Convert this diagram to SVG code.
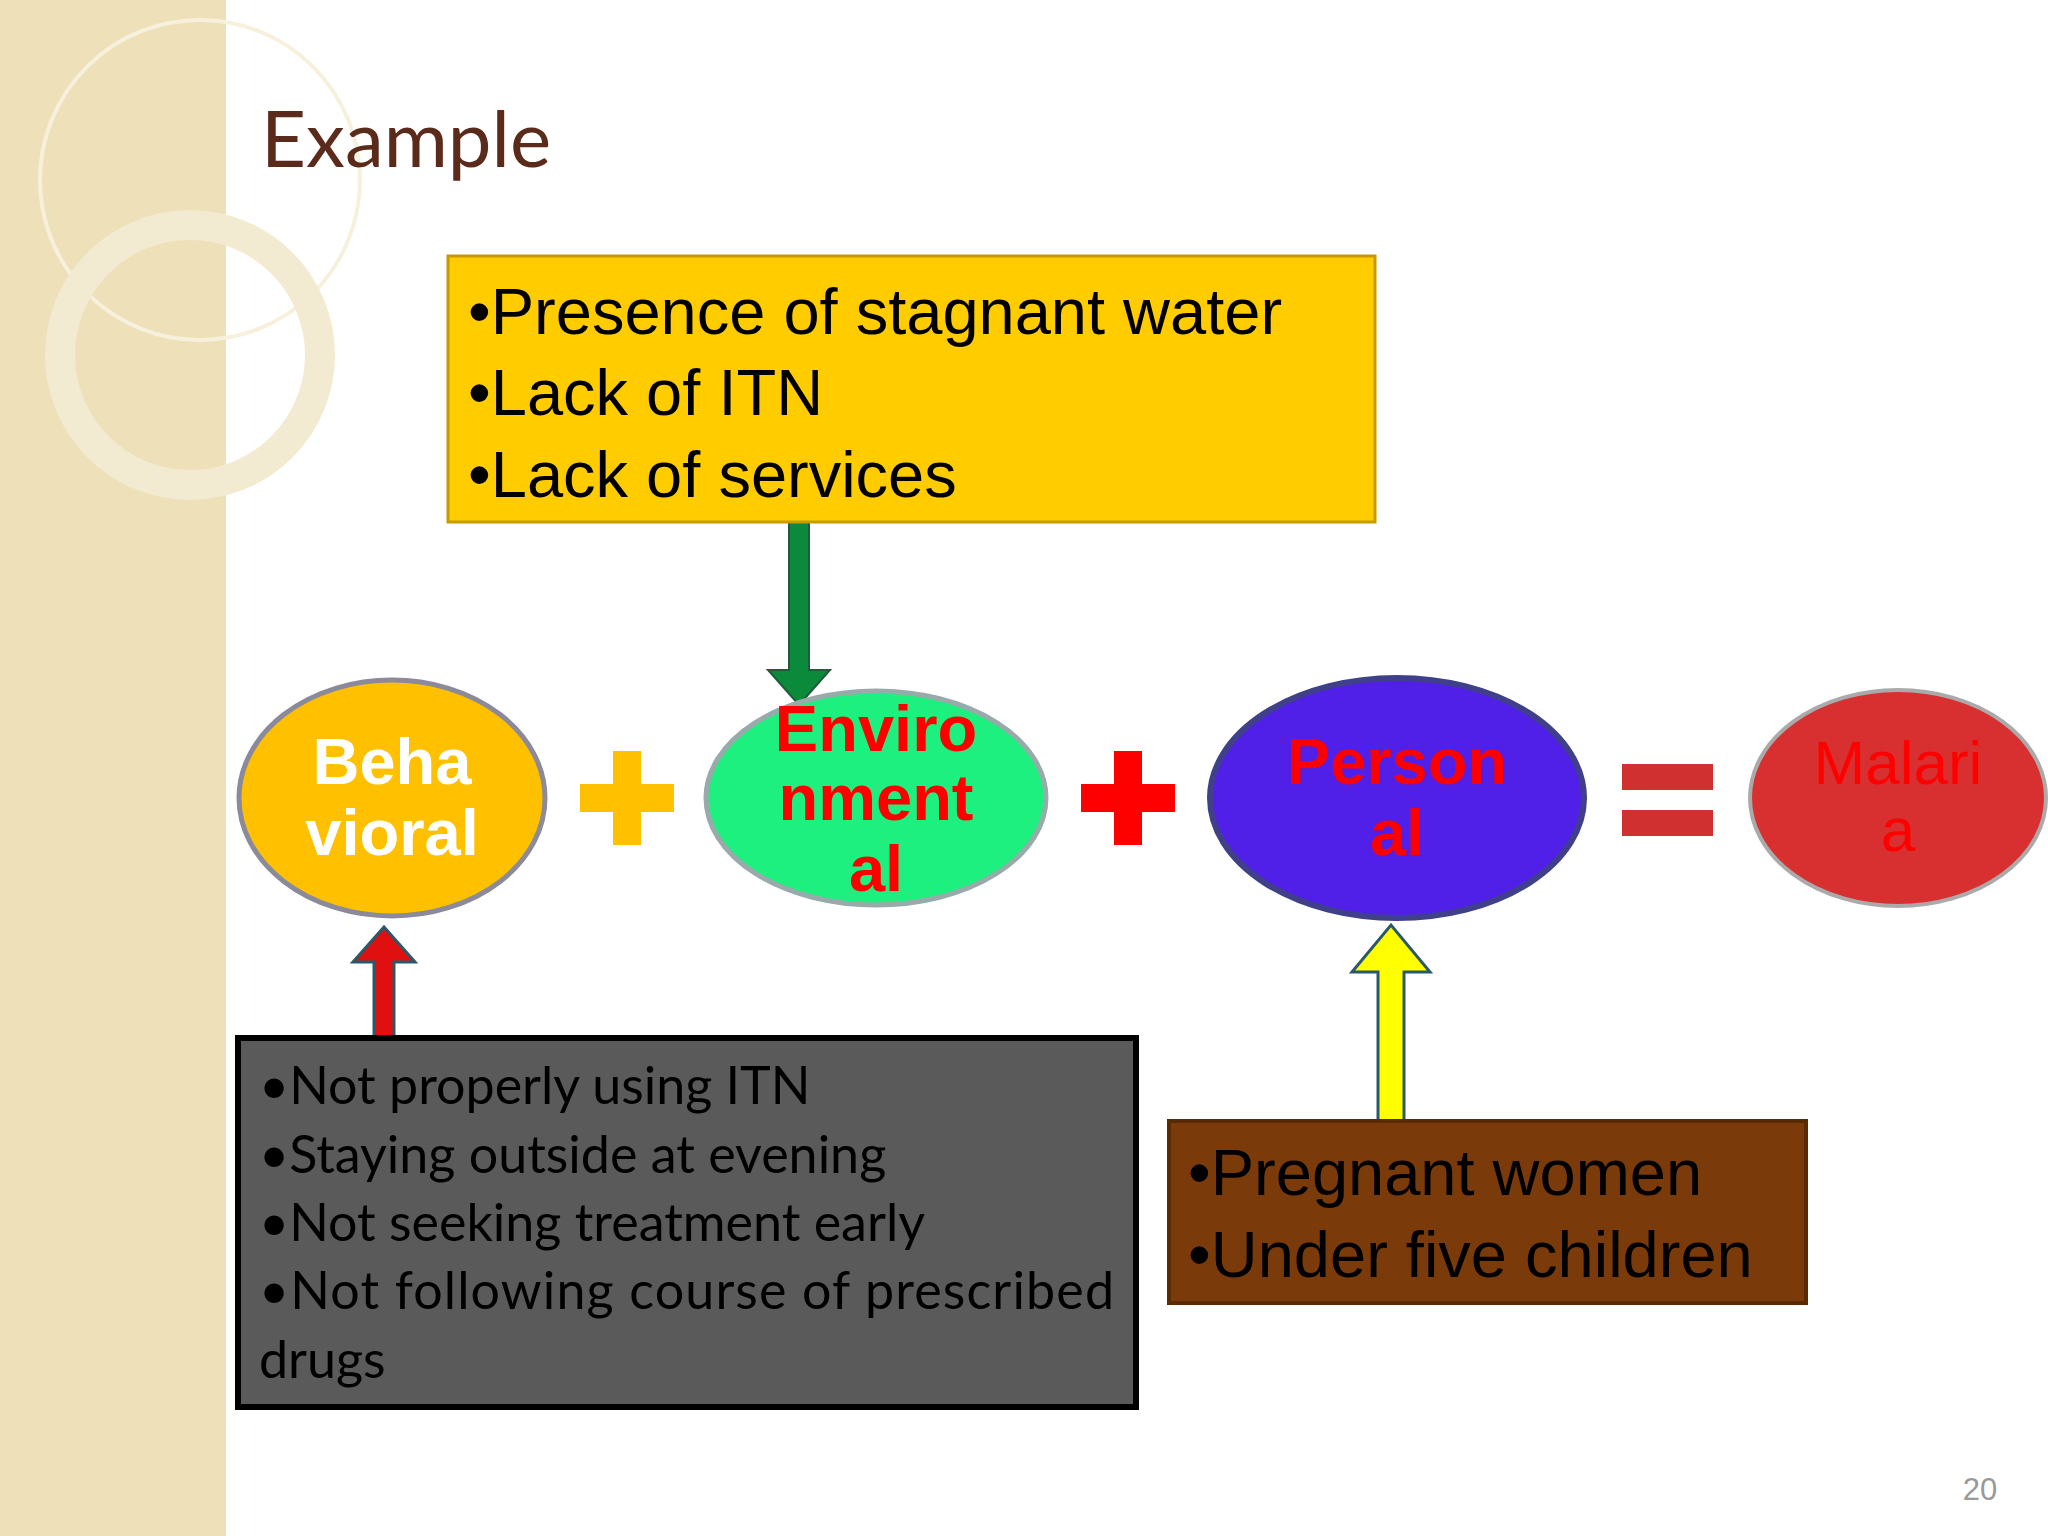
<svg xmlns="http://www.w3.org/2000/svg" width="2048" height="1536" viewBox="0 0 2048 1536">
<style>
.t{font-family:"Liberation Sans",Arial,sans-serif}
.b{font-weight:bold}
.g{font-family:Lato,"Liberation Sans",sans-serif;font-size:52px;fill:#000}
</style>
<defs>
<marker id="n" markerWidth="1" markerHeight="1"/>
</defs>
<rect width="2048" height="1536" fill="#fff"/>
<g id="band">
<rect width="226" height="1536" fill="#eee0b8"/>
<circle cx="200" cy="180" r="160" fill="none" stroke="#f7f0dc" stroke-width="4"/>
<circle cx="190" cy="355" r="130" fill="none" stroke="#f3ead2" stroke-width="30"/>
</g>
<text class="t" x="261" y="167" font-size="78" fill="#5a2a1a" style="font-family:Lato,'Liberation Sans',sans-serif">Example</text>
<g id="connectors">
<polygon points="789,509 809,509 809,670 830,670 799,705 768,670 789,670" fill="#0a8a3a" stroke="#1f5a3a" stroke-width="2"/>
<polygon points="374,1038 394,1038 394,962 415,962 384,927 353,962 374,962" fill="#e01010" stroke="#2a5a6a" stroke-width="3"/>
<polygon points="1378,1121 1404,1121 1404,972 1430,972 1391,925 1352,972 1378,972" fill="#ffff00" stroke="#2a5a6a" stroke-width="3"/>
</g>
<g id="env-box">
<rect x="448" y="256" width="927" height="266" fill="#ffcc00" stroke="#c89a00" stroke-width="3"/>
<text class="t" x="468" y="334" font-size="65">•Presence of stagnant water</text>
<text class="t" x="468" y="415" font-size="65">•Lack of ITN</text>
<text class="t" x="468" y="497" font-size="65">•Lack of services</text>
</g>
<g id="behavioral">
<ellipse cx="392" cy="798" rx="153" ry="118" fill="#ffc000" stroke="#8a8a9a" stroke-width="5"/>
<text class="t b" x="392" y="784" font-size="65" fill="#fff" text-anchor="middle">Beha</text>
<text class="t b" x="392" y="855" font-size="65" fill="#fff" text-anchor="middle">vioral</text>
</g>
<g id="plus1"><rect x="580" y="784" width="94" height="28" fill="#ffc000"/><rect x="613" y="751" width="28" height="94" fill="#ffc000"/></g>
<g id="environmental">
<ellipse cx="876" cy="798" rx="170" ry="107" fill="#1ef080" stroke="#9aa" stroke-width="5"/>
<text class="t b" x="876" y="751" font-size="65" fill="#ff0000" text-anchor="middle">Enviro</text>
<text class="t b" x="876" y="820" font-size="65" fill="#ff0000" text-anchor="middle">nment</text>
<text class="t b" x="876" y="891" font-size="65" fill="#ff0000" text-anchor="middle">al</text>
</g>
<g id="plus2"><rect x="1081" y="784" width="94" height="28" fill="#ff0000"/><rect x="1114" y="751" width="28" height="94" fill="#ff0000"/></g>
<g id="personal">
<ellipse cx="1397" cy="798" rx="187" ry="120" fill="#5020e8" stroke="#40408a" stroke-width="6"/>
<text class="t b" x="1397" y="784" font-size="65" fill="#ff0000" text-anchor="middle">Person</text>
<text class="t b" x="1397" y="855" font-size="65" fill="#ff0000" text-anchor="middle">al</text>
</g>
<g id="equals"><rect x="1622" y="764" width="91" height="26" fill="#d03030"/><rect x="1622" y="810" width="91" height="26" fill="#d03030"/></g>
<g id="malaria">
<ellipse cx="1898" cy="798" rx="148" ry="108" fill="#d83030" stroke="#aaa" stroke-width="4"/>
<text class="t" x="1898" y="784" font-size="62" fill="#ff0000" text-anchor="middle">Malari</text>
<text class="t" x="1898" y="851" font-size="62" fill="#ff0000" text-anchor="middle">a</text>
</g>
<g id="beh-box">
<rect x="238" y="1038" width="898" height="369" fill="#5a5a5a" stroke="#000" stroke-width="6"/>
<text class="g" x="259" y="1104">•Not properly using ITN</text>
<text class="g" x="259" y="1173">•Staying outside at evening</text>
<text class="g" x="259" y="1241">•Not seeking treatment early</text>
<text class="g" x="259" y="1309" textLength="855">•Not following course of prescribed</text>
<text class="g" x="259" y="1378">drugs</text>
</g>
<g id="pers-box">
<rect x="1169" y="1121" width="637" height="182" fill="#7a3a0a" stroke="#5a2a05" stroke-width="4"/>
<text class="t" x="1188" y="1195" font-size="65">•Pregnant women</text>
<text class="t" x="1188" y="1277" font-size="65">•Under five children</text>
</g>
<text class="t" x="1980" y="1500" font-size="31" fill="#999" text-anchor="middle">20</text>
</svg>
